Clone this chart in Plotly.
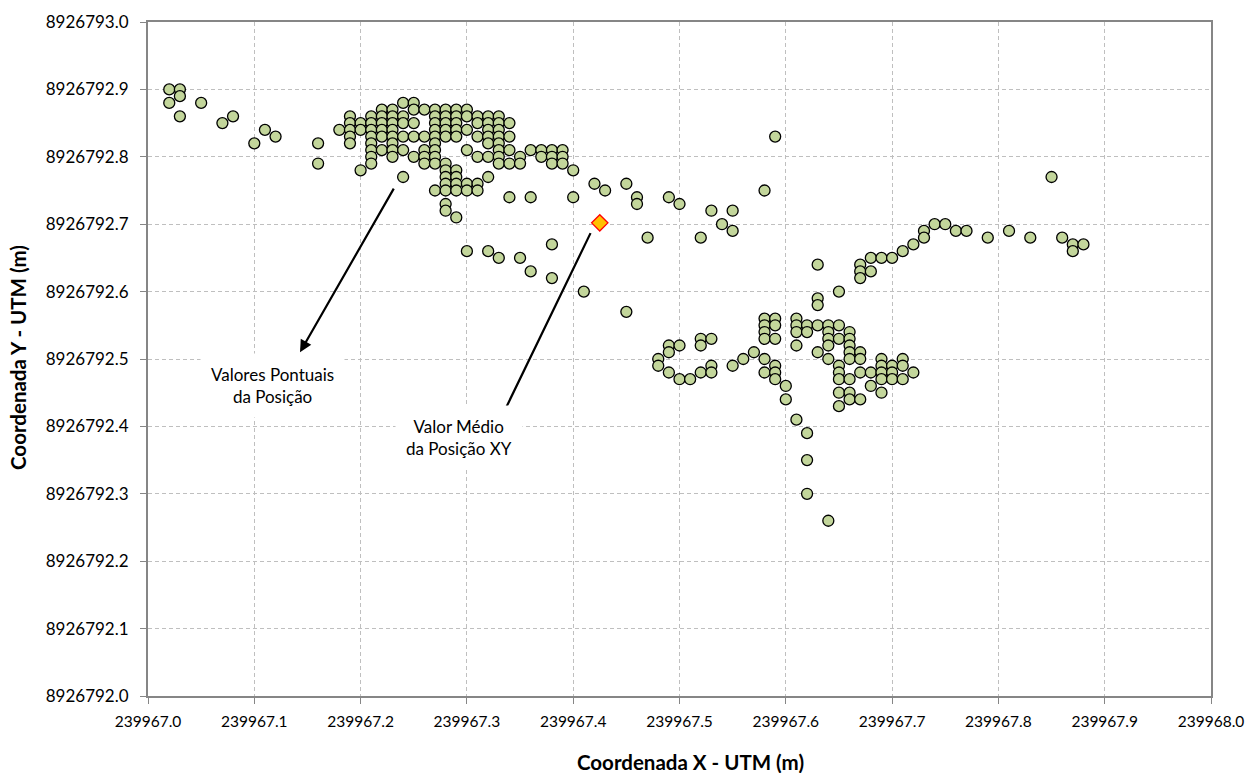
import plotly.graph_objects as go

# GPS fixes of the same station, UTM easting / northing (m)
x_utm = [
    239967.02, 239967.02,
    239967.03, 239967.03, 239967.03,
    239967.05,
    239967.07,
    239967.08,
    239967.10,
    239967.11,
    239967.12,
    239967.16, 239967.16,
    239967.18,
    239967.19, 239967.19, 239967.19, 239967.19, 239967.19,
    239967.20, 239967.20, 239967.20,
    239967.21, 239967.21, 239967.21, 239967.21, 239967.21, 239967.21, 239967.21, 239967.21,
    239967.22, 239967.22, 239967.22, 239967.22, 239967.22, 239967.22,
    239967.23, 239967.23, 239967.23, 239967.23, 239967.23, 239967.23, 239967.23, 239967.23,
    239967.24, 239967.24, 239967.24, 239967.24, 239967.24, 239967.24,
    239967.25, 239967.25, 239967.25, 239967.25, 239967.25,
    239967.26, 239967.26, 239967.26, 239967.26, 239967.26,
    239967.27, 239967.27, 239967.27, 239967.27, 239967.27, 239967.27, 239967.27, 239967.27, 239967.27, 239967.27,
    239967.28, 239967.28, 239967.28, 239967.28, 239967.28, 239967.28, 239967.28, 239967.28, 239967.28, 239967.28, 239967.28, 239967.28,
    239967.29, 239967.29, 239967.29, 239967.29, 239967.29, 239967.29, 239967.29, 239967.29, 239967.29, 239967.29,
    239967.30, 239967.30, 239967.30, 239967.30, 239967.30, 239967.30, 239967.30,
    239967.31, 239967.31, 239967.31, 239967.31, 239967.31, 239967.31,
    239967.32, 239967.32, 239967.32, 239967.32, 239967.32, 239967.32, 239967.32, 239967.32,
    239967.33, 239967.33, 239967.33, 239967.33, 239967.33, 239967.33, 239967.33, 239967.33, 239967.33,
    239967.34, 239967.34, 239967.34, 239967.34, 239967.34,
    239967.35, 239967.35, 239967.35,
    239967.36, 239967.36, 239967.36,
    239967.37, 239967.37,
    239967.38, 239967.38, 239967.38, 239967.38, 239967.38,
    239967.39, 239967.39, 239967.39,
    239967.40, 239967.40,
    239967.41,
    239967.42,
    239967.43,
    239967.45, 239967.45,
    239967.46, 239967.46,
    239967.47,
    239967.48, 239967.48,
    239967.49, 239967.49, 239967.49, 239967.49,
    239967.50, 239967.50, 239967.50,
    239967.51,
    239967.52, 239967.52, 239967.52, 239967.52,
    239967.53, 239967.53, 239967.53, 239967.53,
    239967.54,
    239967.55, 239967.55, 239967.55,
    239967.56,
    239967.57,
    239967.58, 239967.58, 239967.58, 239967.58, 239967.58, 239967.58, 239967.58,
    239967.59, 239967.59, 239967.59, 239967.59, 239967.59, 239967.59, 239967.59,
    239967.60, 239967.60,
    239967.61, 239967.61, 239967.61, 239967.61, 239967.61,
    239967.62, 239967.62, 239967.62, 239967.62, 239967.62,
    239967.63, 239967.63, 239967.63, 239967.63, 239967.63,
    239967.64, 239967.64, 239967.64, 239967.64, 239967.64, 239967.64,
    239967.65, 239967.65, 239967.65, 239967.65, 239967.65, 239967.65, 239967.65, 239967.65,
    239967.66, 239967.66, 239967.66, 239967.66, 239967.66, 239967.66, 239967.66, 239967.66,
    239967.67, 239967.67, 239967.67, 239967.67, 239967.67, 239967.67, 239967.67,
    239967.68, 239967.68, 239967.68, 239967.68,
    239967.69, 239967.69, 239967.69, 239967.69, 239967.69, 239967.69,
    239967.70, 239967.70, 239967.70, 239967.70,
    239967.71, 239967.71, 239967.71, 239967.71,
    239967.72, 239967.72,
    239967.73, 239967.73,
    239967.74,
    239967.75,
    239967.76,
    239967.77,
    239967.79,
    239967.81,
    239967.83,
    239967.85,
    239967.86,
    239967.87, 239967.87,
    239967.88,
]

y_utm = [
    8926792.90, 8926792.88,
    8926792.90, 8926792.89, 8926792.86,
    8926792.88,
    8926792.85,
    8926792.86,
    8926792.82,
    8926792.84,
    8926792.83,
    8926792.82, 8926792.79,
    8926792.84,
    8926792.86, 8926792.85, 8926792.84, 8926792.83, 8926792.82,
    8926792.85, 8926792.84, 8926792.78,
    8926792.86, 8926792.85, 8926792.84, 8926792.83, 8926792.82, 8926792.81, 8926792.80, 8926792.79,
    8926792.87, 8926792.86, 8926792.85, 8926792.84, 8926792.83, 8926792.81,
    8926792.87, 8926792.86, 8926792.85, 8926792.84, 8926792.83, 8926792.82, 8926792.81, 8926792.80,
    8926792.88, 8926792.86, 8926792.85, 8926792.83, 8926792.81, 8926792.77,
    8926792.88, 8926792.87, 8926792.85, 8926792.83, 8926792.80,
    8926792.87, 8926792.83, 8926792.81, 8926792.80, 8926792.79,
    8926792.87, 8926792.86, 8926792.85, 8926792.84, 8926792.83, 8926792.82, 8926792.81, 8926792.80, 8926792.79, 8926792.75,
    8926792.87, 8926792.86, 8926792.85, 8926792.84, 8926792.83, 8926792.79, 8926792.78, 8926792.77, 8926792.76, 8926792.75, 8926792.73, 8926792.72,
    8926792.87, 8926792.86, 8926792.85, 8926792.84, 8926792.83, 8926792.78, 8926792.77, 8926792.76, 8926792.75, 8926792.71,
    8926792.87, 8926792.86, 8926792.84, 8926792.81, 8926792.76, 8926792.75, 8926792.66,
    8926792.86, 8926792.85, 8926792.83, 8926792.80, 8926792.76, 8926792.75,
    8926792.86, 8926792.85, 8926792.84, 8926792.83, 8926792.82, 8926792.80, 8926792.77, 8926792.66,
    8926792.86, 8926792.85, 8926792.84, 8926792.83, 8926792.82, 8926792.81, 8926792.80, 8926792.79, 8926792.65,
    8926792.85, 8926792.83, 8926792.81, 8926792.79, 8926792.74,
    8926792.80, 8926792.79, 8926792.65,
    8926792.81, 8926792.74, 8926792.63,
    8926792.81, 8926792.80,
    8926792.81, 8926792.80, 8926792.79, 8926792.67, 8926792.62,
    8926792.81, 8926792.80, 8926792.79,
    8926792.78, 8926792.74,
    8926792.60,
    8926792.76,
    8926792.75,
    8926792.76, 8926792.57,
    8926792.74, 8926792.73,
    8926792.68,
    8926792.50, 8926792.49,
    8926792.74, 8926792.52, 8926792.51, 8926792.48,
    8926792.73, 8926792.52, 8926792.47,
    8926792.47,
    8926792.68, 8926792.53, 8926792.52, 8926792.48,
    8926792.72, 8926792.53, 8926792.49, 8926792.48,
    8926792.70,
    8926792.72, 8926792.69, 8926792.49,
    8926792.50,
    8926792.51,
    8926792.75, 8926792.56, 8926792.55, 8926792.54, 8926792.53, 8926792.50, 8926792.48,
    8926792.83, 8926792.56, 8926792.55, 8926792.53, 8926792.49, 8926792.48, 8926792.47,
    8926792.46, 8926792.44,
    8926792.56, 8926792.55, 8926792.54, 8926792.52, 8926792.41,
    8926792.55, 8926792.54, 8926792.39, 8926792.35, 8926792.30,
    8926792.64, 8926792.59, 8926792.58, 8926792.55, 8926792.51,
    8926792.55, 8926792.54, 8926792.53, 8926792.52, 8926792.50, 8926792.26,
    8926792.60, 8926792.55, 8926792.53, 8926792.49, 8926792.48, 8926792.47, 8926792.45, 8926792.43,
    8926792.54, 8926792.53, 8926792.52, 8926792.51, 8926792.50, 8926792.47, 8926792.45, 8926792.44,
    8926792.64, 8926792.63, 8926792.62, 8926792.51, 8926792.50, 8926792.48, 8926792.44,
    8926792.65, 8926792.63, 8926792.48, 8926792.46,
    8926792.65, 8926792.50, 8926792.49, 8926792.48, 8926792.47, 8926792.45,
    8926792.65, 8926792.49, 8926792.48, 8926792.47,
    8926792.66, 8926792.50, 8926792.49, 8926792.47,
    8926792.67, 8926792.48,
    8926792.69, 8926792.68,
    8926792.70,
    8926792.70,
    8926792.69,
    8926792.69,
    8926792.68,
    8926792.69,
    8926792.68,
    8926792.77,
    8926792.68,
    8926792.67, 8926792.66,
    8926792.67,
]

assert len(x_utm) == len(y_utm)

# Mean XY position of the fixes
mean_x = [239967.425]
mean_y = [8926792.702]

x_ticks = [239967.0 + i / 10 for i in range(11)]
y_ticks = [8926792.0 + i / 10 for i in range(11)]
x_labels = [f"{v:.1f}" for v in x_ticks]
y_labels = [f"{v:.1f}" for v in y_ticks]

FONT = "Lato, 'Open Sans', sans-serif"
AXIS_GREY = "#868686"
GRID_GREY = "#BFBFBF"

fig = go.Figure()

fig.add_trace(go.Scatter(
    x=x_utm, y=y_utm, mode="markers",
    marker=dict(symbol="circle", size=11, color="#C3D69B",
                line=dict(color="#000000", width=1.3)),
    showlegend=False, hoverinfo="x+y",
))

fig.add_trace(go.Scatter(
    x=mean_x, y=mean_y, mode="markers",
    marker=dict(symbol="diamond", size=12.5, color="#FFC000",
                line=dict(color="#FF0000", width=1.3)),
    showlegend=False, hoverinfo="x+y",
))

fig.update_xaxes(
    range=[239967.0, 239968.0], tickmode="array",
    tickvals=x_ticks, ticktext=x_labels,
    showgrid=True, gridcolor=GRID_GREY, gridwidth=1, griddash="4px,3px",
    showline=True, linecolor=AXIS_GREY, linewidth=2, mirror=True,
    ticks="outside", ticklen=6, tickcolor=AXIS_GREY, tickwidth=1,
    tickfont=dict(family=FONT, size=15.5, color="#000000"),
    ticklabelstandoff=4,
    zeroline=False, automargin=False,
)
fig.update_yaxes(
    range=[8926792.0, 8926793.0], tickmode="array",
    tickvals=y_ticks, ticktext=y_labels,
    showgrid=True, gridcolor=GRID_GREY, gridwidth=1, griddash="4px,3px",
    showline=True, linecolor=AXIS_GREY, linewidth=2, mirror=True,
    ticks="outside", ticklen=6, tickcolor=AXIS_GREY, tickwidth=1,
    tickfont=dict(family=FONT, size=17, color="#000000"),
    ticklabelstandoff=8,
    zeroline=False, automargin=False,
)

annotations = [
    # axis titles
    dict(text="<b>Coordenada X - UTM (m)</b>", xref="paper", yref="paper",
         x=0.51, y=-0.098, xanchor="center", yanchor="middle", showarrow=False,
         font=dict(family=FONT, size=20.5, color="#000000")),
    dict(text="<b>Coordenada Y - UTM (m)</b>", xref="paper", yref="paper",
         x=-0.1223, y=0.503, xanchor="center", yanchor="middle", showarrow=False,
         textangle=-90, font=dict(family=FONT, size=20.5, color="#000000")),
    # arrows
    dict(x=239967.143, y=8926792.510, ax=239967.232, ay=8926792.755,
         xref="x", yref="y", axref="x", ayref="y", text="", showarrow=True,
         arrowhead=2, arrowsize=1.1, arrowwidth=2.2, arrowcolor="#000000"),
    dict(x=239967.328, y=8926792.399, ax=239967.417, ay=8926792.689,
         xref="x", yref="y", axref="x", ayref="y", text="", showarrow=True,
         arrowhead=2, arrowsize=1.1, arrowwidth=2.2, arrowcolor="#000000"),
    # callout labels
    dict(text="Valores Pontuais<br>da Posição", x=239967.117, y=8926792.460,
         xref="x", yref="y", showarrow=False, bgcolor="#FFFFFF", borderpad=10,
         font=dict(family=FONT, size=17, color="#000000")),
    dict(text="Valor Médio<br>da Posição XY", x=239967.293, y=8926792.383,
         xref="x", yref="y", showarrow=False, bgcolor="#FFFFFF", borderpad=10,
         font=dict(family=FONT, size=17, color="#000000")),
]

fig.update_layout(
    width=1250, height=773,
    margin=dict(l=148, r=39, t=22, b=77),
    paper_bgcolor="#FFFFFF", plot_bgcolor="#FFFFFF",
    font=dict(family=FONT, color="#000000"),
    annotations=annotations,
    showlegend=False,
)

fig.write_html("out.html")
